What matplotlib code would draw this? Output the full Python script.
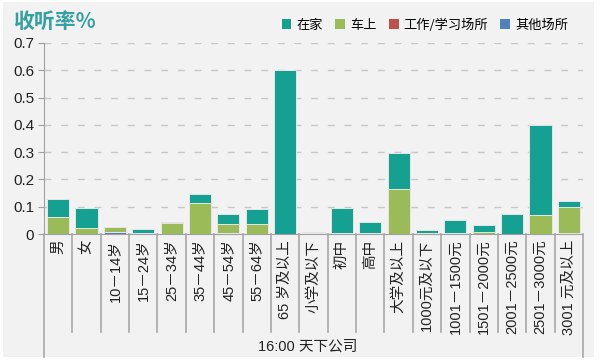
import numpy as np
import matplotlib
matplotlib.use('Agg')
import matplotlib.pyplot as plt
from matplotlib.patches import Rectangle, Patch

plt.rcParams['font.family'] = ['Noto Sans CJK SC', 'DejaVu Sans']
latin_cjk = ['Liberation Sans', 'Noto Sans CJK SC']

categories = ['男', '女', '10－14岁', '15－24岁', '25－34岁', '35－44岁', '45－54岁',
              '55－64岁', '65 岁及以上', '小学及以下', '初中', '高中', '大学及以上',
              '1000元及以下', '1001－1500元', '1501－2000元', '2001－2500元',
              '2501－3000元', '3001 元及以上']
home = [0.067, 0.074, 0.001, 0.015, 0.004, 0.032, 0.037, 0.054, 0.600, 0.002,
        0.089, 0.040, 0.131, 0.010, 0.049, 0.025, 0.072, 0.332, 0.020]
car = [0.061, 0.023, 0.020, 0.002, 0.040, 0.115, 0.030, 0.037, 0.0, 0.004,
       0.005, 0.002, 0.165, 0.004, 0.0, 0.007, 0.0, 0.068, 0.097]
work = [0, 0, 0, 0, 0, 0, 0.004, 0, 0, 0, 0, 0.001, 0, 0, 0.002, 0, 0, 0, 0.003]
other = [0, 0, 0.006, 0, 0, 0, 0.001, 0, 0, 0, 0, 0, 0, 0, 0.002, 0, 0, 0, 0]
series_names = ['在家', '车上', '工作/学习场所', '其他场所']
colors = ['#14a191', '#9bbb59', '#c0504d', '#4f81bd']
group_label = '16:00 天下公司'

fig = plt.figure(figsize=(6, 3.6), dpi=100)
fig.patch.set_facecolor('white')
fig.patches.append(Rectangle((3/600, 1-357/360), 591/600, 355/360, transform=fig.transFigure,
                             facecolor='#f2f2f2', edgecolor='none', zorder=-10))

ax = fig.add_axes([44/600, 1-234/360, 539/600, 191/360])
ax.set_facecolor('none')

x = np.arange(len(categories))
bottom = np.zeros(len(categories))
# stack from bottom: other, work, car, home
for vals, c in [(other, colors[3]), (work, colors[2]), (car, colors[1]), (home, colors[0])]:
    vals = np.array(vals)
    ax.bar(x, vals, bottom=bottom, width=0.78, color=c, edgecolor='#e6e6e6', linewidth=0.7, zorder=3)
    bottom += vals

ax.set_xlim(-0.5, len(categories) - 0.5)
ax.set_ylim(0, 0.7)
ax.set_yticks(np.arange(0, 0.71, 0.1))
ax.set_yticklabels(['0', '0.1', '0.2', '0.3', '0.4', '0.5', '0.6', '0.7'], fontsize=11,
                   color='#222222', family=latin_cjk)
ax.yaxis.grid(True, color='#c8c8c8', linestyle=(0, (5, 7)), linewidth=1, zorder=0)
ax.tick_params(axis='y', length=4, color='#a0a0a0', pad=3)
ax.tick_params(axis='x', length=0)
ax.set_xticks([])
for s in ['top', 'right']:
    ax.spines[s].set_visible(False)
ax.spines['left'].set_color('#a0a0a0')
ax.spines['bottom'].set_color('#a0a0a0')

# category labels and separators
trans = ax.get_xaxis_transform()
for i, lab in enumerate(categories):
    ax.text(i, -0.03, lab, rotation=90, ha='center', va='top', fontsize=10.5,
            color='#222222', transform=trans, family=latin_cjk)
for b in np.arange(-0.5, len(categories), 1.0):
    low = -0.645 if b in (-0.5, len(categories) - 0.5) else -0.513
    ax.plot([b, b], [0, low], color='#a8a8a8', linewidth=1.2, transform=trans, clip_on=False)
ax.text((len(categories) - 1) / 2 - 0.2, -0.592, group_label, ha='center', va='center',
        fontsize=10.5, color='#222222', transform=trans, family=latin_cjk)

fig.text(13/600, 1-21/360, '收听率%', fontsize=15, fontweight='bold', color='#35a0a0',
         ha='left', va='center')

handles = [Patch(facecolor=c, edgecolor='none') for c in colors]
fig.legend(handles, series_names, loc='center', bbox_to_anchor=(425/600, 1-25/360), ncol=4,
           frameon=False, fontsize=9.5, handlelength=0.75, handleheight=0.75,
           handletextpad=0.4, columnspacing=0.9)

fig.savefig('out.png', dpi=100)
